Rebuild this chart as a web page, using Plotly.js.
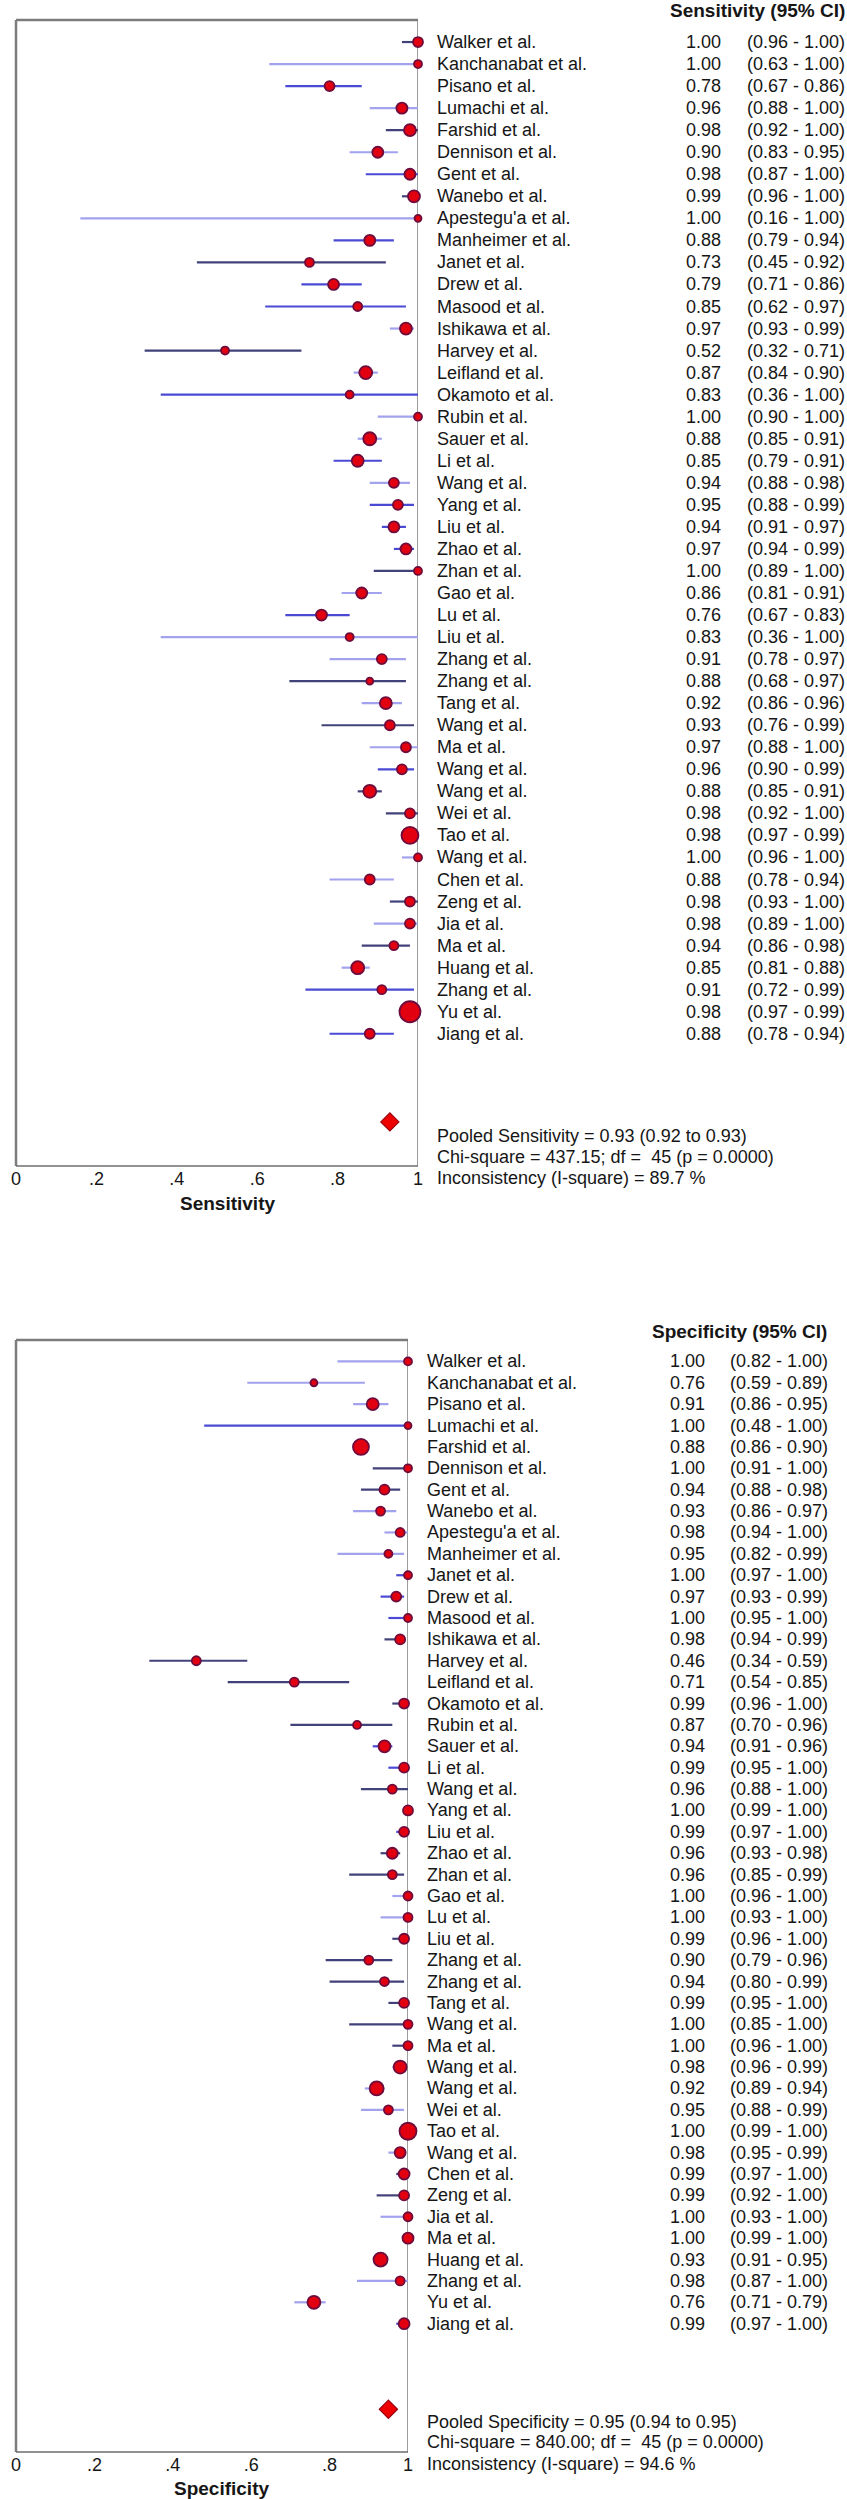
<!DOCTYPE html>
<html>
<head>
<meta charset="utf-8">
<script src="https://cdn.plot.ly/plotly-3.0.1.min.js"></script>
<style>html,body{margin:0;padding:0;background:#fff;}#chart{width:847px;height:2499px;}</style>
</head>
<body>
<div id="chart"></div>
<script>
// ---------------- DATA ----------------
const studies = ["Walker et al.", "Kanchanabat et al.", "Pisano et al.", "Lumachi et al.", "Farshid et al.", "Dennison et al.", "Gent et al.", "Wanebo et al.", "Apestegu'a et al.", "Manheimer et al.", "Janet et al.", "Drew et al.", "Masood et al.", "Ishikawa et al.", "Harvey et al.", "Leifland et al.", "Okamoto et al.", "Rubin et al.", "Sauer et al.", "Li et al.", "Wang et al.", "Yang et al.", "Liu et al.", "Zhao et al.", "Zhan et al.", "Gao et al.", "Lu et al.", "Liu et al.", "Zhang et al.", "Zhang et al.", "Tang et al.", "Wang et al.", "Ma et al.", "Wang et al.", "Wang et al.", "Wei et al.", "Tao et al.", "Wang et al.", "Chen et al.", "Zeng et al.", "Jia et al.", "Ma et al.", "Huang et al.", "Zhang et al.", "Yu et al.", "Jiang et al."];

const sens   = [1.00,1.00,0.78,0.96,0.98,0.90,0.98,0.99,1.00,0.88,0.73,0.79,0.85,0.97,0.52,0.87,0.83,1.00,0.88,0.85,0.94,0.95,0.94,0.97,1.00,0.86,0.76,0.83,0.91,0.88,0.92,0.93,0.97,0.96,0.88,0.98,0.98,1.00,0.88,0.98,0.98,0.94,0.85,0.91,0.98,0.88];
const sensLo = [0.96,0.63,0.67,0.88,0.92,0.83,0.87,0.96,0.16,0.79,0.45,0.71,0.62,0.93,0.32,0.84,0.36,0.90,0.85,0.79,0.88,0.88,0.91,0.94,0.89,0.81,0.67,0.36,0.78,0.68,0.86,0.76,0.88,0.90,0.85,0.92,0.97,0.96,0.78,0.93,0.89,0.86,0.81,0.72,0.97,0.78];
const sensHi = [1.00,1.00,0.86,1.00,1.00,0.95,1.00,1.00,1.00,0.94,0.92,0.86,0.97,0.99,0.71,0.90,1.00,1.00,0.91,0.91,0.98,0.99,0.97,0.99,1.00,0.91,0.83,1.00,0.97,0.97,0.96,0.99,1.00,0.99,0.91,1.00,0.99,1.00,0.94,1.00,1.00,0.98,0.88,0.99,0.99,0.94];

const spec   = [1.00,0.76,0.91,1.00,0.88,1.00,0.94,0.93,0.98,0.95,1.00,0.97,1.00,0.98,0.46,0.71,0.99,0.87,0.94,0.99,0.96,1.00,0.99,0.96,0.96,1.00,1.00,0.99,0.90,0.94,0.99,1.00,1.00,0.98,0.92,0.95,1.00,0.98,0.99,0.99,1.00,1.00,0.93,0.98,0.76,0.99];
const specLo = [0.82,0.59,0.86,0.48,0.86,0.91,0.88,0.86,0.94,0.82,0.97,0.93,0.95,0.94,0.34,0.54,0.96,0.70,0.91,0.95,0.88,0.99,0.97,0.93,0.85,0.96,0.93,0.96,0.79,0.80,0.95,0.85,0.96,0.96,0.89,0.88,0.99,0.95,0.97,0.92,0.93,0.99,0.91,0.87,0.71,0.97];
const specHi = [1.00,0.89,0.95,1.00,0.90,1.00,0.98,0.97,1.00,0.99,1.00,0.99,1.00,0.99,0.59,0.85,1.00,0.96,0.96,1.00,1.00,1.00,1.00,0.98,0.99,1.00,1.00,1.00,0.96,0.99,1.00,1.00,1.00,0.99,0.94,0.99,1.00,0.99,1.00,1.00,1.00,1.00,0.95,1.00,0.79,1.00];

const sensPooled = {est: 0.93, lo: 0.92, hi: 0.93, chi: "437.15", df: 45, p: "0.0000", i2: "89.7"};
const specPooled = {est: 0.95, lo: 0.94, hi: 0.95, chi: "840.00", df: 45, p: "0.0000", i2: "94.6"};

const tickVals = [0, 0.2, 0.4, 0.6, 0.8, 1];
const tickText = ["0", ".2", ".4", ".6", ".8", "1"];

// ---------------- STYLE ----------------
const sensMarkerPx = [10,8,10,11,12,11,11,12,7,11,9,11,9,12,8,13,8,8,13,12,10,10,11,11,8,11,11,8,10,7,12,10,10,10,13,10,17,8,10,10,10,9,13,9,21,10];
const specMarkerPx = [8,7,12,7,16,8,10,9,9,8,8,10,8,10,9,9,10,8,12,10,9,10,10,11,9,9,9,10,9,9,10,9,9,13,14,9,17,11,11,10,9,11,14,9,13,11];
const sensShade = [2,0,1,0,2,0,1,2,0,1,2,1,1,0,2,0,1,0,0,1,0,1,1,1,2,0,1,0,0,2,0,2,0,1,2,2,0,0,0,2,0,2,0,1,0,1];
const specShade = [0,0,0,1,0,2,2,0,0,0,1,1,1,2,2,2,2,2,1,1,2,1,1,2,2,0,0,2,2,2,2,2,2,0,0,0,0,0,2,2,0,1,0,0,0,1];
const shadeColors = ["#a2a2ee", "#4a4ad4", "#42427a"];

const W = 847, H = 2499;
const FONT = "Arial, 'Liberation Sans', Helvetica, sans-serif";
const TXT = "#161616";
const px = v => v / W;
const py = v => 1 - v / H;

const panels = [
  {name: "Sensitivity", est: sens, lo: sensLo, hi: sensHi, pooled: sensPooled, sizes: sensMarkerPx, shade: sensShade,
   xdom: [16, 418], ydom: [20, 1166], labelX: 435, valX: 723, ciX: 745, headX: 668, headY: 10,
   titleX: 227, titleY: 1203, statY: [1136, 1157, 1178], ax: ""},
  {name: "Specificity", est: spec, lo: specLo, hi: specHi, pooled: specPooled, sizes: specMarkerPx, shade: specShade,
   xdom: [16, 408], ydom: [1340, 2452], labelX: 425, valX: 707, ciX: 728, headX: 650, headY: 1331,
   titleX: 221, titleY: 2488, statY: [2422, 2442, 2464], ax: "2"}
];

const traces = [];
const annotations = [];
const shapes = [];
const layout = {
  width: W, height: H, margin: {l: 0, r: 0, t: 0, b: 0},
  paper_bgcolor: "#ffffff", plot_bgcolor: "#ffffff", showlegend: false,
  font: {family: FONT, size: 18, color: TXT}
};

panels.forEach(P => {
  const xa = "x" + P.ax, ya = "y" + P.ax;
  const xname = "xaxis" + P.ax, yname = "yaxis" + P.ax;
  const n = P.est.length;
  const pooledRow = n + 3;
  layout[xname] = {
    domain: [px(P.xdom[0]), px(P.xdom[1])], range: [0, 1], anchor: ya,
    showgrid: false, zeroline: false, showline: false, ticks: "",
    tickvals: tickVals, ticktext: tickText, tickfont: {size: 18, color: TXT, family: FONT},
    fixedrange: true
  };
  layout[yname] = {
    domain: [py(P.ydom[1]), py(P.ydom[0])], range: [n + 5, -1], anchor: xa,
    showgrid: false, zeroline: false, showline: false, showticklabels: false, ticks: "",
    fixedrange: true
  };

  // CI lines grouped by shade
  [0, 1, 2].forEach(s => {
    const xs = [], ys = [];
    for (let i = 0; i < n; i++) {
      if (P.shade[i] !== s) continue;
      xs.push(P.lo[i], P.hi[i], null);
      ys.push(i, i, null);
    }
    traces.push({type: "scatter", mode: "lines", x: xs, y: ys, xaxis: xa, yaxis: ya,
      line: {color: shadeColors[s], width: 2.2}, hoverinfo: "skip", cliponaxis: false});
  });

  // study estimates
  traces.push({type: "scatter", mode: "markers", x: P.est, y: P.est.map((_, i) => i),
    xaxis: xa, yaxis: ya, cliponaxis: false,
    marker: {symbol: "circle", size: P.sizes, color: "#e20010", opacity: 1,
             line: {color: "#6c0c3c", width: 1.8}},
    text: studies, hoverinfo: "text+x"});

  // pooled diamond
  traces.push({type: "scatter", mode: "markers", x: [P.pooled.est], y: [pooledRow],
    xaxis: xa, yaxis: ya, cliponaxis: false,
    marker: {symbol: "diamond", size: 14, color: "#ee0000", opacity: 1, line: {color: "#9a0010", width: 1.2}},
    hoverinfo: "x"});

  // frame
  const lineCol = "#7c7c7c";
  shapes.push({type: "line", xref: xa + " domain", yref: ya + " domain", x0: 0, x1: 0, y0: 0, y1: 1, line: {color: lineCol, width: 2.5}});
  shapes.push({type: "line", xref: xa + " domain", yref: ya + " domain", x0: 0, x1: 1, y0: 1, y1: 1, line: {color: lineCol, width: 2.5}});
  shapes.push({type: "line", xref: xa + " domain", yref: ya + " domain", x0: 0, x1: 1, y0: 0, y1: 0, line: {color: "#6c6c6c", width: 1.5}});
  shapes.push({type: "line", xref: xa, yref: ya + " domain", x0: 1, x1: 1, y0: 0, y1: 1, line: {color: "#7c7c7c", width: 1.5}, layer: "below"});

  // row texts
  for (let i = 0; i < n; i++) {
    annotations.push({xref: "paper", yref: ya, x: px(P.labelX), y: i, xanchor: "left", yanchor: "middle",
      text: studies[i], showarrow: false, font: {size: 18, color: TXT, family: FONT}});
    annotations.push({xref: "paper", yref: ya, x: px(P.valX), y: i, xanchor: "right", yanchor: "middle",
      text: P.est[i].toFixed(2), showarrow: false, font: {size: 18, color: TXT, family: FONT}});
    annotations.push({xref: "paper", yref: ya, x: px(P.ciX), y: i, xanchor: "left", yanchor: "middle",
      text: "(" + P.lo[i].toFixed(2) + " - " + P.hi[i].toFixed(2) + ")", showarrow: false,
      font: {size: 18, color: TXT, family: FONT}});
  }

  // header
  annotations.push({xref: "paper", yref: "paper", x: px(P.headX), y: py(P.headY), xanchor: "left", yanchor: "middle",
    text: "<b>" + P.name + " (95% CI)</b>", showarrow: false, font: {size: 19, color: TXT, family: FONT}});
  // axis title
  annotations.push({xref: "paper", yref: "paper", x: px(P.titleX), y: py(P.titleY), xanchor: "center", yanchor: "middle",
    text: "<b>" + P.name + "</b>", showarrow: false, font: {size: 19, color: TXT, family: FONT}});
  // stats
  const pl = P.pooled;
  const stats = [
    "Pooled " + P.name + " = " + pl.est.toFixed(2) + " (" + pl.lo.toFixed(2) + " to " + pl.hi.toFixed(2) + ")",
    "Chi-square = " + pl.chi + "; df = \u00a0" + pl.df + " (p = " + pl.p + ")",
    "Inconsistency (I-square) = " + pl.i2 + " %"
  ];
  stats.forEach((t, k) => {
    annotations.push({xref: "paper", yref: "paper", x: px(P.labelX), y: py(P.statY[k]), xanchor: "left", yanchor: "middle",
      text: t, showarrow: false, font: {size: 18, color: TXT, family: FONT}});
  });
});

layout.annotations = annotations;
layout.shapes = shapes;

Plotly.newPlot("chart", traces, layout, {displayModeBar: false, staticPlot: true});
</script>
</body>
</html>
